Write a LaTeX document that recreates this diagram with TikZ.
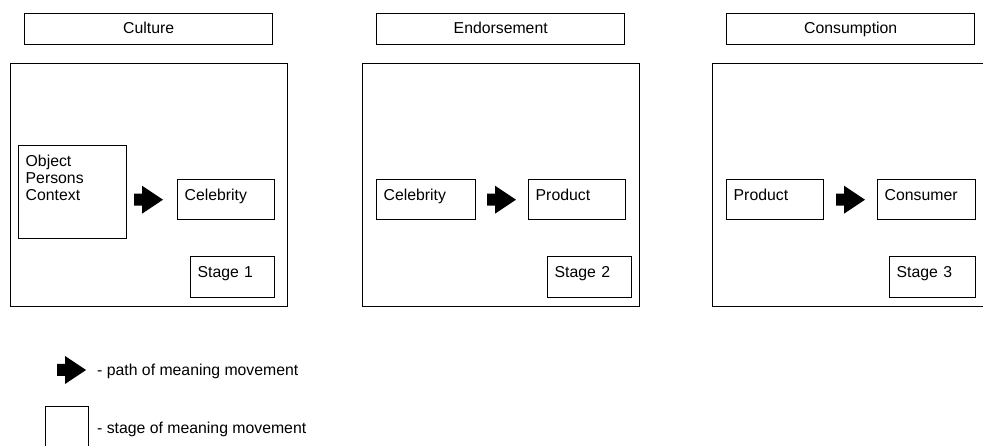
\documentclass[tikz,border=0pt]{standalone}
\usepackage{fontspec}
\setmainfont{Liberation Sans}
\begin{document}
\begin{tikzpicture}
[
  x=1pt, y=-1pt,
  every node/.style = {font=\fontsize{15.8}{17}\selectfont},
  box/.style = {draw, line width=1.4pt, anchor=north west, inner sep=0pt},
  header/.style = {box, minimum width=248pt, minimum height=31pt, text height=11pt, text depth=3pt},
  frame/.style = {box, minimum width=277pt, minimum height=243pt},
  item/.style = {box, inner xsep=7pt, inner ysep=10pt, text height=11pt, align=left},
  patharrow/.pic = {\fill (0,-6) -- (8,-6) -- (8,-14) -- (29,0) -- (8,14) -- (8,6) -- (0,6) -- cycle;},
]
\useasboundingbox (0,0) rectangle (983,446);
\clip (0,0) rectangle (983,446);

%stage 1: culture
\node[header] (culture) at (24,13) {Culture};
\node[frame] (frame1) at (10,63) {};
\node[item, text width=94pt, text depth=62pt] (object) at (18,145) {Object\\Persons\\Context};
\node[item, text width=83pt, text depth=9pt] (celeb1) at (177,179) {Celebrity};
\node[item, text width=70pt, text depth=10pt] (stage1) at (190,256) {Stage 1};
\path (celeb1.west) ++(-43,0) pic {patharrow};

%stage 2: endorsement
\node[header] (endorse) at (376,13) {Endorsement};
\node[frame] (frame2) at (362,63) {};
\node[item, text width=85pt, text depth=9pt] (celeb2) at (376,179) {Celebrity};
\node[item, text width=83pt, text depth=9pt] (product2) at (528,179) {Product};
\node[item, text width=70pt, text depth=10pt] (stage2) at (547,256) {Stage 2};
\path (product2.west) ++(-41,0) pic {patharrow};

%stage 3: consumption
\node[header] (consume) at (726,13) {Consumption};
\node[frame] (frame3) at (712,63) {};
\node[item, text width=83pt, text depth=9pt] (product3) at (726,179) {Product};
\node[item, text width=84pt, text depth=9pt] (consumer) at (877,179) {Consumer};
\node[item, text width=72pt, text depth=10pt] (stage3) at (889,256) {Stage 3};
\path (consumer.west) ++(-41,0) pic {patharrow};

%legend
\path (57,370) pic {patharrow};
\node[anchor=base west, inner sep=0pt] (pathtext) at (97,375) {- path of meaning movement};
\node[box, minimum width=43pt, minimum height=50pt] (legendbox) at (45,406) {};
\node[anchor=base west, inner sep=0pt] (stagetext) at (97,433) {- stage of meaning movement};
\end{tikzpicture}
\end{document}
